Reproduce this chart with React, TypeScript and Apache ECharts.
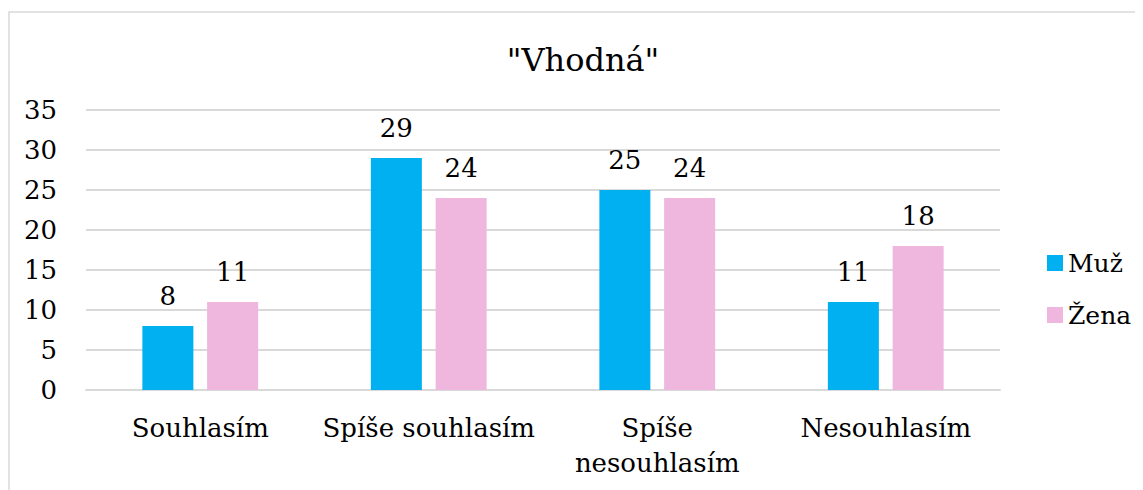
import React, { useEffect, useRef } from "react";
import * as echarts from "echarts";

const titleText = '"Vhodná"';
const categories = ["Souhlasím", "Spíše souhlasím", "Spíše nesouhlasím", "Nesouhlasím"];
const seriesNames = ["Muž", "Žena"];
const muzValues = [8, 29, 25, 11];
const zenaValues = [11, 24, 24, 18];
const seriesColors = ["#00B0F0", "#EFB6DE"];
const yTicks = { min: 0, max: 35, interval: 5 };

const FONT = "DejaVu Serif";
const FS = 26;

export default function App() {
  const ref = useRef<HTMLDivElement>(null);
  useEffect(() => {
    if (!ref.current) return;
    const chart = echarts.init(ref.current, null, { renderer: "svg" });
    const labelStyle = {
      show: true,
      position: "top" as const,
      distance: 15,
      color: "#000",
      fontSize: FS,
      lineHeight: 30,
      fontFamily: FONT,
    };
    chart.setOption({
      animation: false,
      backgroundColor: "#fff",
      textStyle: { fontFamily: FONT },
      graphic: [
        {
          type: "rect",
          shape: { x: 1, y: 4, width: 1400, height: 700 },
          style: { fill: "none", stroke: "#d9d9d9", lineWidth: 1.5 },
          silent: true,
        },
      ],
      title: {
        text: titleText,
        left: 570,
        top: 28,
        textAlign: "center",
        textStyle: {
          fontFamily: FONT,
          fontSize: 32,
          fontWeight: "normal",
          color: "#000",
          lineHeight: 37,
        },
      },
      legend: {
        orient: "vertical",
        left: 1034,
        top: 235,
        itemWidth: 16,
        itemHeight: 16,
        itemGap: 22,
        icon: "rect",
        textStyle: { fontFamily: FONT, fontSize: 25, lineHeight: 30, color: "#000", padding: [0, 0, 0, 0] },
        data: seriesNames,
      },
      grid: { left: 78, top: 102, width: 914, height: 280, containLabel: false },
      xAxis: {
        type: "category",
        data: categories,
        axisLine: { show: true, lineStyle: { color: "#d9d9d9", width: 2 } },
        axisTick: { show: false },
        axisLabel: {
          color: "#000",
          fontFamily: FONT,
          fontSize: FS,
          lineHeight: 35,
          margin: 20,
          interval: 0,
          formatter: (v: string) => (v === "Spíše nesouhlasím" ? "Spíše\nnesouhlasím" : v),
        },
      },
      yAxis: {
        type: "value",
        min: yTicks.min,
        max: yTicks.max,
        interval: yTicks.interval,
        axisLine: { show: false },
        axisTick: { show: false },
        splitLine: { lineStyle: { color: "#d9d9d9", width: 2 } },
        axisLabel: { color: "#000", fontFamily: FONT, fontSize: FS, margin: 29 },
      },
      series: [
        {
          name: seriesNames[0],
          type: "bar",
          data: muzValues,
          barWidth: 51,
          barGap: "27%",
          itemStyle: { color: seriesColors[0] },
          label: labelStyle,
        },
        {
          name: seriesNames[1],
          type: "bar",
          data: zenaValues,
          barWidth: 51,
          barGap: "27%",
          itemStyle: { color: seriesColors[1] },
          label: labelStyle,
        },
      ],
    });
    return () => chart.dispose();
  }, []);
  return <div ref={ref} style={{ width: 1135, height: 482 }} />;
}
